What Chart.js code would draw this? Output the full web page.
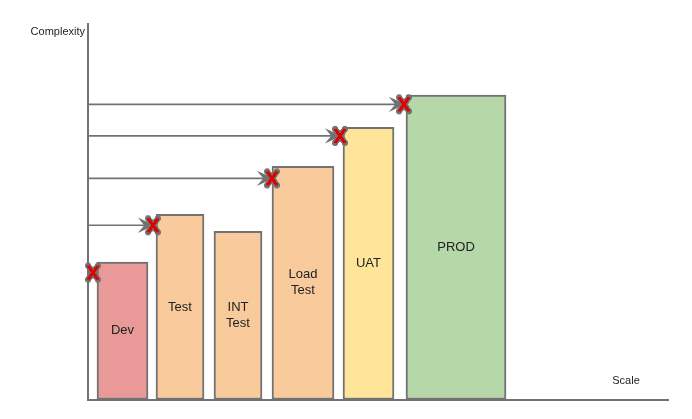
<!DOCTYPE html>
<html><head><meta charset="utf-8">
<script src="https://cdn.jsdelivr.net/npm/chart.js@4/dist/chart.umd.min.js"></script>
<style>html,body{margin:0;padding:0;background:#fff;}#wrap{width:692px;height:419px;position:relative;}</style>
</head><body><div id="wrap"><canvas id="c"></canvas></div>
<script>
// ---- data ----
const categories = ['Dev', 'Test', 'INT\nTest', 'Load\nTest', 'UAT', 'PROD'];
const complexity = [36.6, 49.3, 44.8, 62.1, 72.5, 81.1];
const scaleStart = [9, 68, 126, 184, 255, 318];
const scaleEnd = [60, 116, 174, 246, 306, 418];
const barColors = ['#ea9999', '#f9cb9c', '#f9cb9c', '#f9cb9c', '#ffe599', '#b6d7a8'];
const gateScale = [5, 65, 184, 252, 316];
const gateComplexity = [33.8, 46.4, 58.9, 70.2, 78.6];
const arrowGates = [1, 2, 3, 4];
const yTitle = 'Complexity';
const xTitle = 'Scale';

const GREY = '#727272';
const FONT = '"Liberation Sans", Arial, sans-serif';

// red "X" marker image (style only)
function makeCross() {
  const w = 18, h = 22, scale = 3;
  const cv = document.createElement('canvas');
  cv.width = w * scale; cv.height = h * scale;
  const c = cv.getContext('2d');
  c.scale(scale, scale);
  const seg = (col, lw, cap) => {
    c.strokeStyle = col; c.lineWidth = lw; c.lineCap = cap;
    c.beginPath();
    c.moveTo(4, 4); c.lineTo(14, 18);
    c.moveTo(14, 4); c.lineTo(4, 18);
    c.stroke();
  };
  seg(GREY, 6, 'round');
  seg('#e00000', 3, 'butt');
  const img = document.createElement('canvas');
  img.width = w; img.height = h;
  img.getContext('2d').drawImage(cv, 0, 0, w, h);
  return img;
}
const crossImg = makeCross();

const barSets = categories.map((c, i) => ({
  type: 'bar',
  label: c,
  data: [{x: (scaleStart[i] + scaleEnd[i]) / 2, y: complexity[i]}],
  backgroundColor: barColors[i],
  borderColor: GREY,
  borderWidth: 2,
  borderSkipped: false,
  grouped: false,
  order: 3,
  barThickness: (ctx) => {
    const s = ctx.chart.scales.x;
    return s.getPixelForValue(scaleEnd[i]) - s.getPixelForValue(scaleStart[i]);
  }
}));

const arrowSets = arrowGates.map(g => ({
  type: 'line',
  label: 'arrow',
  isArrow: true,
  data: [{x: 0, y: gateComplexity[g]}, {x: gateScale[g], y: gateComplexity[g]}],
  borderColor: GREY,
  borderWidth: 1.6,
  pointRadius: 0,
  fill: false,
  order: 2,
  clip: false
}));

const gatePoints = gateScale.map((x, i) => ({x: x, y: gateComplexity[i]}));
const markSets = [
  {type: 'scatter', label: 'gate', data: gatePoints, pointStyle: crossImg, pointRadius: 9,
   order: 0, clip: false}
];

const drawPlugin = {
  id: 'drawPlugin',
  afterDatasetDraw(chart, args) {
    const ds = chart.data.datasets[args.index];
    const ctx = chart.ctx;
    const meta = args.meta;
    if (ds.isArrow) {
      const p = meta.data[meta.data.length - 1];
      ctx.save();
      ctx.fillStyle = GREY;
      ctx.strokeStyle = GREY;
      ctx.lineWidth = 1.2;
      ctx.beginPath();
      ctx.moveTo(p.x, p.y);
      ctx.lineTo(p.x - 13, p.y - 6);
      ctx.lineTo(p.x - 8, p.y);
      ctx.lineTo(p.x - 13, p.y + 6);
      ctx.closePath();
      ctx.fill();
      ctx.stroke();
      ctx.restore();
    } else if (ds.type === 'bar') {
      const el = meta.data[0];
      const lines = ds.label.split('\n');
      const cy = (el.y + el.base) / 2;
      ctx.save();
      ctx.font = '13px ' + FONT;
      ctx.fillStyle = '#222';
      ctx.textAlign = 'center';
      ctx.textBaseline = 'middle';
      const lh = 16;
      lines.forEach((t, k) => {
        ctx.fillText(t, el.x, cy + (k - (lines.length - 1) / 2) * lh);
      });
      ctx.restore();
    }
  },
  afterDraw(chart) {
    const ctx = chart.ctx;
    const a = chart.chartArea;
    ctx.save();
    ctx.font = '11px ' + FONT;
    ctx.fillStyle = '#222';
    ctx.textBaseline = 'middle';
    ctx.textAlign = 'right';
    ctx.fillText(yTitle, a.left - 3, a.top + 7.5);
    ctx.textAlign = 'center';
    ctx.fillText(xTitle, a.right - 42, a.bottom - 18.5);
    ctx.restore();
  }
};

new Chart(document.getElementById('c'), {
  type: 'bar',
  data: {datasets: [...barSets, ...arrowSets, ...markSets]},
  options: {
    responsive: true,
    maintainAspectRatio: false,
    animation: false,
    events: [],
    layout: {padding: {left: 88, top: 24, right: 24, bottom: 19.5}},
    plugins: {legend: {display: false}, tooltip: {enabled: false}},
    scales: {
      x: {
        type: 'linear', min: 0, max: 580, offset: false,
        ticks: {display: false}, grid: {display: false},
        border: {display: true, color: GREY, width: 2},
        afterFit(s) { s.height = 0; }
      },
      y: {
        type: 'linear', min: 0, max: 100,
        ticks: {display: false}, grid: {display: false},
        border: {display: true, color: GREY, width: 2},
        afterFit(s) { s.width = 0; }
      }
    }
  },
  plugins: [drawPlugin]
});
</script>
</body></html>
